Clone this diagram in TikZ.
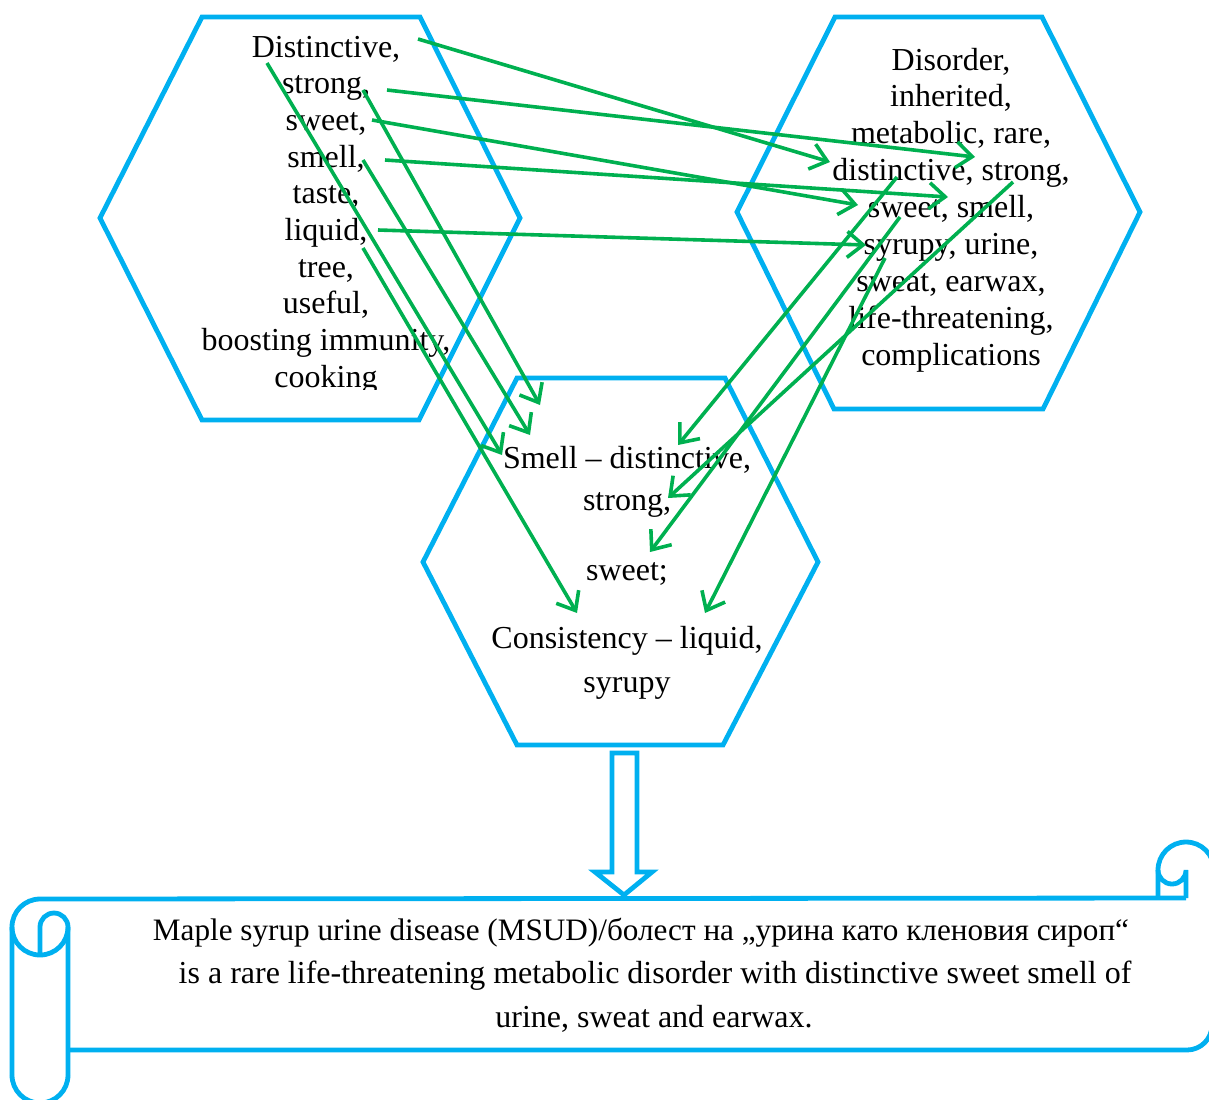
\documentclass[tikz,border=0pt]{standalone}
\usepackage{fontspec}
\setmainfont{Liberation Serif}
\usetikzlibrary{arrows.meta}
\definecolor{hexblue}{HTML}{00B0F0}
\definecolor{linkgreen}{HTML}{00B050}

\begin{document}
\begin{tikzpicture}[x=0.5pt,y=-0.5pt,
  hexa/.style={draw=hexblue,line width=2.4pt},
  link/.style={draw=linkgreen,line width=1.8pt,-{Straight Barb[length=8pt,width=13pt]}},
  word/.style={anchor=base,inner sep=0pt,font=\fontsize{16}{18}\selectfont}]
\useasboundingbox (0,0) rectangle (1209,1099);
% the three hexagons
\draw[hexa] (202,17)--(420,17)--(520,218)--(419,420)--(202,420)--(100,218)--cycle;
\draw[hexa] (835,17)--(1042,17)--(1140,212)--(1043,409)--(834,409)--(737,212)--cycle;
\draw[hexa] (517,378)--(725,378)--(818,562)--(723,745)--(517,745)--(423,562)--cycle;

% words of the left hexagon
\begin{scope}
\clip (0,0) rectangle (700,389);
\foreach \w [count=\i] in {{Distinctive,},{strong,},{sweet,},{smell,},{taste,},{liquid,},{tree,},{useful,},{boosting immunity,},cooking}
  \node[word] (l\i) at (326,{57+36.7*(\i-1)}) {\w};
\end{scope}
% words of the right hexagon
\foreach \w [count=\i] in {{Disorder,},{inherited,},{metabolic, rare,},{distinctive, strong,},{sweet, smell,},{syrupy, urine,},{sweat, earwax,},{life-threatening,},complications}
  \node[word] (r\i) at (951,{70+36.9*(\i-1)}) {\w};
% words of the middle hexagon
\node[word] (c1) at (627,468) {Smell -- distinctive,};
\node[word] (c2) at (627,510) {strong,};
\node[word] (c3) at (627,580) {sweet;};
\node[word] (c4) at (627,648) {Consistency -- liquid,};
\node[word] (c5) at (627,692) {syrupy};

% ends of the links
\coordinate (sDist) at (418,39);   \coordinate (tDist) at (830,162);
\coordinate (sStrong) at (387,90); \coordinate (tStrong) at (975,157);
\coordinate (sSweet) at (372,120); \coordinate (tSweet) at (858,205);
\coordinate (sSmell) at (385,160); \coordinate (tSmell) at (948,197);
\coordinate (sLiquid) at (378,230);\coordinate (tSyrupy) at (866,245);
\coordinate (dDist) at (267,63);   \coordinate (mDist) at (502,455);
\coordinate (dStrong) at (363,90); \coordinate (mStrongA) at (540,405);
\coordinate (dSmell) at (363,160); \coordinate (mSmell) at (530,435);
\coordinate (dLiquid) at (363,248);\coordinate (mLiquid) at (577,613);
\coordinate (rDist) at (897,177);  \coordinate (mDistB) at (678,445);
\coordinate (rStrong) at (1013,182);\coordinate (mStrong) at (668,498);
\coordinate (rSweet) at (900,217); \coordinate (mSweet) at (650,552);
\coordinate (rSyrupy) at (885,258);\coordinate (mSyrupy) at (705,613);

\draw[link] (sDist)--(tDist);
\draw[link] (sStrong)--(tStrong);
\draw[link] (sSweet)--(tSweet);
\draw[link] (sSmell)--(tSmell);
\draw[link] (sLiquid)--(tSyrupy);
\draw[link] (dDist)--(mDist);
\draw[link] (dStrong)--(mStrongA);
\draw[link] (dSmell)--(mSmell);
\draw[link] (dLiquid)--(mLiquid);
\draw[link] (rDist)--(mDistB);
\draw[link] (rStrong)--(mStrong);
\draw[link] (rSweet)--(mSweet);
\draw[link] (rSyrupy)--(mSyrupy);

% block arrow down to the scroll
\draw[hexa,fill=white] (612,753)--(637,753)--(637,872)--(652,872)--(624,895)--(595,872)--(612,872)--cycle;

% the scroll (y runs downwards, so 270 is up)
\draw[hexa] (12,1075)--(12,927) arc[start angle=180,end angle=270,radius=28]--(1186,898);
\draw[hexa] (12,927) arc[start angle=180,end angle=0,radius=28];
\draw[hexa] (40,955)--(40,927) arc[start angle=180,end angle=360,radius=14]--(68,1075);
\draw[hexa] (12,1075) arc[start angle=180,end angle=0,radius=28];
\draw[hexa] (68,1050)--(1187,1050) arc[start angle=90,end angle=0,radius=25]--(1212,870);
\draw[hexa] (1158,898)--(1158,870) arc[start angle=180,end angle=360,radius=28]--(1214,900);
\draw[hexa] (1158,870) arc[start angle=180,end angle=0,radius=14]--(1186,898);

\node[word,font=\fontsize{15.6}{18}\selectfont] (m1) at (641,940) {Maple syrup urine disease (MSUD)/болест на „урина като кленовия сироп“};
\node[word] (m2) at (655,983) {is a rare life-threatening metabolic disorder with distinctive sweet smell of};
\node[word] (m3) at (654,1027) {urine, sweat and earwax.};
\end{tikzpicture}
\end{document}
